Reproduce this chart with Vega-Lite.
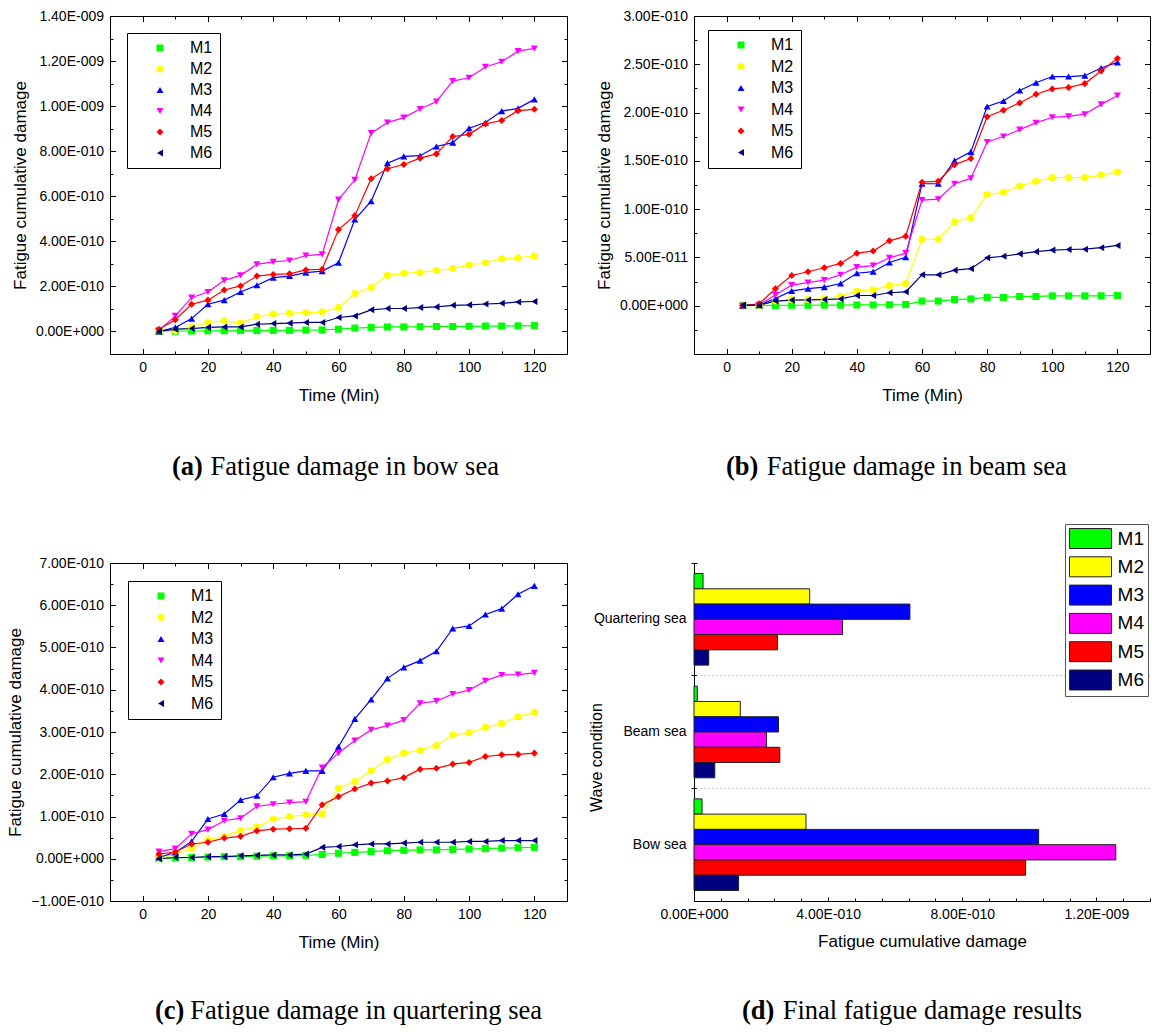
{
"$schema": "https://vega.github.io/schema/vega-lite/v6.json",
"background": "white",
"padding": {"left": 6, "top": 8, "right": 0, "bottom": 4},
"datasets": {
"bow": [
{"model":"M1","time":5,"damage":0},{"model":"M1","time":10,"damage":0.01e-10},{"model":"M1","time":15,"damage":0.02e-10},{"model":"M1","time":20,"damage":0.03e-10},{"model":"M1","time":25,"damage":0.03e-10},{"model":"M1","time":30,"damage":0.04e-10},{"model":"M1","time":35,"damage":0.04e-10},{"model":"M1","time":40,"damage":0.05e-10},{"model":"M1","time":45,"damage":0.05e-10},{"model":"M1","time":50,"damage":0.06e-10},{"model":"M1","time":55,"damage":0.07e-10},{"model":"M1","time":60,"damage":0.10e-10},{"model":"M1","time":65,"damage":0.15e-10},{"model":"M1","time":70,"damage":0.18e-10},{"model":"M1","time":75,"damage":0.20e-10},{"model":"M1","time":80,"damage":0.20e-10},{"model":"M1","time":85,"damage":0.21e-10},{"model":"M1","time":90,"damage":0.22e-10},{"model":"M1","time":95,"damage":0.22e-10},{"model":"M1","time":100,"damage":0.23e-10},{"model":"M1","time":105,"damage":0.24e-10},{"model":"M1","time":110,"damage":0.24e-10},{"model":"M1","time":115,"damage":0.25e-10},{"model":"M1","time":120,"damage":0.26e-10},
{"model":"M2","time":5,"damage":0},{"model":"M2","time":10,"damage":0.03e-10},{"model":"M2","time":15,"damage":0.20e-10},{"model":"M2","time":20,"damage":0.40e-10},{"model":"M2","time":25,"damage":0.47e-10},{"model":"M2","time":30,"damage":0.37e-10},{"model":"M2","time":35,"damage":0.66e-10},{"model":"M2","time":40,"damage":0.77e-10},{"model":"M2","time":45,"damage":0.81e-10},{"model":"M2","time":50,"damage":0.84e-10},{"model":"M2","time":55,"damage":0.87e-10},{"model":"M2","time":60,"damage":1.06e-10},{"model":"M2","time":65,"damage":1.68e-10},{"model":"M2","time":70,"damage":1.95e-10},{"model":"M2","time":75,"damage":2.49e-10},{"model":"M2","time":80,"damage":2.58e-10},{"model":"M2","time":85,"damage":2.61e-10},{"model":"M2","time":90,"damage":2.71e-10},{"model":"M2","time":95,"damage":2.79e-10},{"model":"M2","time":100,"damage":2.95e-10},{"model":"M2","time":105,"damage":3.05e-10},{"model":"M2","time":110,"damage":3.23e-10},{"model":"M2","time":115,"damage":3.27e-10},{"model":"M2","time":120,"damage":3.35e-10},
{"model":"M3","time":5,"damage":0},{"model":"M3","time":10,"damage":0.18e-10},{"model":"M3","time":15,"damage":0.57e-10},{"model":"M3","time":20,"damage":1.21e-10},{"model":"M3","time":25,"damage":1.39e-10},{"model":"M3","time":30,"damage":1.75e-10},{"model":"M3","time":35,"damage":2.05e-10},{"model":"M3","time":40,"damage":2.39e-10},{"model":"M3","time":45,"damage":2.46e-10},{"model":"M3","time":50,"damage":2.61e-10},{"model":"M3","time":55,"damage":2.68e-10},{"model":"M3","time":60,"damage":3.05e-10},{"model":"M3","time":65,"damage":4.97e-10},{"model":"M3","time":70,"damage":5.78e-10},{"model":"M3","time":75,"damage":7.47e-10},{"model":"M3","time":80,"damage":7.77e-10},{"model":"M3","time":85,"damage":7.80e-10},{"model":"M3","time":90,"damage":8.21e-10},{"model":"M3","time":95,"damage":8.38e-10},{"model":"M3","time":100,"damage":9.02e-10},{"model":"M3","time":105,"damage":9.27e-10},{"model":"M3","time":110,"damage":9.78e-10},{"model":"M3","time":115,"damage":9.90e-10},{"model":"M3","time":120,"damage":10.30e-10},
{"model":"M4","time":5,"damage":0.05e-10},{"model":"M4","time":10,"damage":0.69e-10},{"model":"M4","time":15,"damage":1.50e-10},{"model":"M4","time":20,"damage":1.75e-10},{"model":"M4","time":25,"damage":2.27e-10},{"model":"M4","time":30,"damage":2.49e-10},{"model":"M4","time":35,"damage":2.98e-10},{"model":"M4","time":40,"damage":3.09e-10},{"model":"M4","time":45,"damage":3.15e-10},{"model":"M4","time":50,"damage":3.37e-10},{"model":"M4","time":55,"damage":3.42e-10},{"model":"M4","time":60,"damage":5.85e-10},{"model":"M4","time":65,"damage":6.73e-10},{"model":"M4","time":70,"damage":8.80e-10},{"model":"M4","time":75,"damage":9.27e-10},{"model":"M4","time":80,"damage":9.49e-10},{"model":"M4","time":85,"damage":9.87e-10},{"model":"M4","time":90,"damage":10.20e-10},{"model":"M4","time":95,"damage":11.11e-10},{"model":"M4","time":100,"damage":11.26e-10},{"model":"M4","time":105,"damage":11.74e-10},{"model":"M4","time":110,"damage":11.97e-10},{"model":"M4","time":115,"damage":12.44e-10},{"model":"M4","time":120,"damage":12.56e-10},
{"model":"M5","time":5,"damage":0.10e-10},{"model":"M5","time":10,"damage":0.52e-10},{"model":"M5","time":15,"damage":1.21e-10},{"model":"M5","time":20,"damage":1.39e-10},{"model":"M5","time":25,"damage":1.84e-10},{"model":"M5","time":30,"damage":2.02e-10},{"model":"M5","time":35,"damage":2.46e-10},{"model":"M5","time":40,"damage":2.53e-10},{"model":"M5","time":45,"damage":2.56e-10},{"model":"M5","time":50,"damage":2.73e-10},{"model":"M5","time":55,"damage":2.76e-10},{"model":"M5","time":60,"damage":4.52e-10},{"model":"M5","time":65,"damage":5.14e-10},{"model":"M5","time":70,"damage":6.78e-10},{"model":"M5","time":75,"damage":7.22e-10},{"model":"M5","time":80,"damage":7.41e-10},{"model":"M5","time":85,"damage":7.69e-10},{"model":"M5","time":90,"damage":7.88e-10},{"model":"M5","time":95,"damage":8.65e-10},{"model":"M5","time":100,"damage":8.75e-10},{"model":"M5","time":105,"damage":9.21e-10},{"model":"M5","time":110,"damage":9.36e-10},{"model":"M5","time":115,"damage":9.80e-10},{"model":"M5","time":120,"damage":9.86e-10},
{"model":"M6","time":5,"damage":0},{"model":"M6","time":10,"damage":0.10e-10},{"model":"M6","time":15,"damage":0.13e-10},{"model":"M6","time":20,"damage":0.18e-10},{"model":"M6","time":25,"damage":0.20e-10},{"model":"M6","time":30,"damage":0.20e-10},{"model":"M6","time":35,"damage":0.32e-10},{"model":"M6","time":40,"damage":0.35e-10},{"model":"M6","time":45,"damage":0.37e-10},{"model":"M6","time":50,"damage":0.40e-10},{"model":"M6","time":55,"damage":0.40e-10},{"model":"M6","time":60,"damage":0.62e-10},{"model":"M6","time":65,"damage":0.69e-10},{"model":"M6","time":70,"damage":0.96e-10},{"model":"M6","time":75,"damage":1.02e-10},{"model":"M6","time":80,"damage":1.02e-10},{"model":"M6","time":85,"damage":1.06e-10},{"model":"M6","time":90,"damage":1.09e-10},{"model":"M6","time":95,"damage":1.16e-10},{"model":"M6","time":100,"damage":1.18e-10},{"model":"M6","time":105,"damage":1.22e-10},{"model":"M6","time":110,"damage":1.25e-10},{"model":"M6","time":115,"damage":1.31e-10},{"model":"M6","time":120,"damage":1.33e-10}
],
"beam": [
{"model":"M1","time":5,"damage":0.02e-11},{"model":"M1","time":10,"damage":0.02e-11},{"model":"M1","time":15,"damage":0.03e-11},{"model":"M1","time":20,"damage":0.05e-11},{"model":"M1","time":25,"damage":0.05e-11},{"model":"M1","time":30,"damage":0.06e-11},{"model":"M1","time":35,"damage":0.06e-11},{"model":"M1","time":40,"damage":0.08e-11},{"model":"M1","time":45,"damage":0.08e-11},{"model":"M1","time":50,"damage":0.10e-11},{"model":"M1","time":55,"damage":0.12e-11},{"model":"M1","time":60,"damage":0.48e-11},{"model":"M1","time":65,"damage":0.48e-11},{"model":"M1","time":70,"damage":0.64e-11},{"model":"M1","time":75,"damage":0.70e-11},{"model":"M1","time":80,"damage":0.86e-11},{"model":"M1","time":85,"damage":0.86e-11},{"model":"M1","time":90,"damage":0.96e-11},{"model":"M1","time":95,"damage":0.96e-11},{"model":"M1","time":100,"damage":1.02e-11},{"model":"M1","time":105,"damage":1.02e-11},{"model":"M1","time":110,"damage":1.02e-11},{"model":"M1","time":115,"damage":1.02e-11},{"model":"M1","time":120,"damage":1.06e-11},
{"model":"M2","time":5,"damage":0},{"model":"M2","time":10,"damage":0},{"model":"M2","time":15,"damage":0.48e-11},{"model":"M2","time":20,"damage":0.64e-11},{"model":"M2","time":25,"damage":0.64e-11},{"model":"M2","time":30,"damage":0.74e-11},{"model":"M2","time":35,"damage":0.96e-11},{"model":"M2","time":40,"damage":1.53e-11},{"model":"M2","time":45,"damage":1.66e-11},{"model":"M2","time":50,"damage":2.08e-11},{"model":"M2","time":55,"damage":2.30e-11},{"model":"M2","time":60,"damage":6.88e-11},{"model":"M2","time":65,"damage":6.88e-11},{"model":"M2","time":70,"damage":8.70e-11},{"model":"M2","time":75,"damage":9.11e-11},{"model":"M2","time":80,"damage":11.51e-11},{"model":"M2","time":85,"damage":11.74e-11},{"model":"M2","time":90,"damage":12.38e-11},{"model":"M2","time":95,"damage":12.89e-11},{"model":"M2","time":100,"damage":13.27e-11},{"model":"M2","time":105,"damage":13.27e-11},{"model":"M2","time":110,"damage":13.27e-11},{"model":"M2","time":115,"damage":13.53e-11},{"model":"M2","time":120,"damage":13.85e-11},
{"model":"M3","time":5,"damage":0},{"model":"M3","time":10,"damage":0.06e-11},{"model":"M3","time":15,"damage":0.74e-11},{"model":"M3","time":20,"damage":1.53e-11},{"model":"M3","time":25,"damage":1.76e-11},{"model":"M3","time":30,"damage":1.92e-11},{"model":"M3","time":35,"damage":2.30e-11},{"model":"M3","time":40,"damage":3.36e-11},{"model":"M3","time":45,"damage":3.52e-11},{"model":"M3","time":50,"damage":4.48e-11},{"model":"M3","time":55,"damage":5.02e-11},{"model":"M3","time":60,"damage":12.63e-11},{"model":"M3","time":65,"damage":12.63e-11},{"model":"M3","time":70,"damage":15.03e-11},{"model":"M3","time":75,"damage":15.93e-11},{"model":"M3","time":80,"damage":20.63e-11},{"model":"M3","time":85,"damage":21.20e-11},{"model":"M3","time":90,"damage":22.29e-11},{"model":"M3","time":95,"damage":23.09e-11},{"model":"M3","time":100,"damage":23.73e-11},{"model":"M3","time":105,"damage":23.73e-11},{"model":"M3","time":110,"damage":23.82e-11},{"model":"M3","time":115,"damage":24.62e-11},{"model":"M3","time":120,"damage":25.20e-11},
{"model":"M4","time":5,"damage":0},{"model":"M4","time":10,"damage":0.10e-11},{"model":"M4","time":15,"damage":1.10e-11},{"model":"M4","time":20,"damage":2.14e-11},{"model":"M4","time":25,"damage":2.40e-11},{"model":"M4","time":30,"damage":2.65e-11},{"model":"M4","time":35,"damage":3.20e-11},{"model":"M4","time":40,"damage":4.00e-11},{"model":"M4","time":45,"damage":4.16e-11},{"model":"M4","time":50,"damage":4.96e-11},{"model":"M4","time":55,"damage":5.44e-11},{"model":"M4","time":60,"damage":10.94e-11},{"model":"M4","time":65,"damage":11.03e-11},{"model":"M4","time":70,"damage":12.63e-11},{"model":"M4","time":75,"damage":13.18e-11},{"model":"M4","time":80,"damage":16.95e-11},{"model":"M4","time":85,"damage":17.52e-11},{"model":"M4","time":90,"damage":18.23e-11},{"model":"M4","time":95,"damage":18.93e-11},{"model":"M4","time":100,"damage":19.51e-11},{"model":"M4","time":105,"damage":19.60e-11},{"model":"M4","time":110,"damage":19.83e-11},{"model":"M4","time":115,"damage":20.85e-11},{"model":"M4","time":120,"damage":21.75e-11},
{"model":"M5","time":5,"damage":0.02e-11},{"model":"M5","time":10,"damage":0.20e-11},{"model":"M5","time":15,"damage":1.76e-11},{"model":"M5","time":20,"damage":3.13e-11},{"model":"M5","time":25,"damage":3.52e-11},{"model":"M5","time":30,"damage":3.93e-11},{"model":"M5","time":35,"damage":4.38e-11},{"model":"M5","time":40,"damage":5.44e-11},{"model":"M5","time":45,"damage":5.66e-11},{"model":"M5","time":50,"damage":6.72e-11},{"model":"M5","time":55,"damage":7.20e-11},{"model":"M5","time":60,"damage":12.79e-11},{"model":"M5","time":65,"damage":12.89e-11},{"model":"M5","time":70,"damage":14.61e-11},{"model":"M5","time":75,"damage":15.25e-11},{"model":"M5","time":80,"damage":19.57e-11},{"model":"M5","time":85,"damage":20.24e-11},{"model":"M5","time":90,"damage":21.00e-11},{"model":"M5","time":95,"damage":21.90e-11},{"model":"M5","time":100,"damage":22.45e-11},{"model":"M5","time":105,"damage":22.60e-11},{"model":"M5","time":110,"damage":23.00e-11},{"model":"M5","time":115,"damage":24.30e-11},{"model":"M5","time":120,"damage":25.60e-11},
{"model":"M6","time":5,"damage":0.06e-11},{"model":"M6","time":10,"damage":0.06e-11},{"model":"M6","time":15,"damage":0.48e-11},{"model":"M6","time":20,"damage":0.58e-11},{"model":"M6","time":25,"damage":0.60e-11},{"model":"M6","time":30,"damage":0.64e-11},{"model":"M6","time":35,"damage":0.70e-11},{"model":"M6","time":40,"damage":1.06e-11},{"model":"M6","time":45,"damage":1.06e-11},{"model":"M6","time":50,"damage":1.34e-11},{"model":"M6","time":55,"damage":1.44e-11},{"model":"M6","time":60,"damage":3.20e-11},{"model":"M6","time":65,"damage":3.20e-11},{"model":"M6","time":70,"damage":3.68e-11},{"model":"M6","time":75,"damage":3.84e-11},{"model":"M6","time":80,"damage":4.96e-11},{"model":"M6","time":85,"damage":5.12e-11},{"model":"M6","time":90,"damage":5.37e-11},{"model":"M6","time":95,"damage":5.60e-11},{"model":"M6","time":100,"damage":5.76e-11},{"model":"M6","time":105,"damage":5.82e-11},{"model":"M6","time":110,"damage":5.85e-11},{"model":"M6","time":115,"damage":6.01e-11},{"model":"M6","time":120,"damage":6.24e-11}
],
"quartering": [
{"model":"M1","time":5,"damage":0},{"model":"M1","time":10,"damage":0.02e-10},{"model":"M1","time":15,"damage":0.03e-10},{"model":"M1","time":20,"damage":0.04e-10},{"model":"M1","time":25,"damage":0.05e-10},{"model":"M1","time":30,"damage":0.05e-10},{"model":"M1","time":35,"damage":0.06e-10},{"model":"M1","time":40,"damage":0.07e-10},{"model":"M1","time":45,"damage":0.07e-10},{"model":"M1","time":50,"damage":0.08e-10},{"model":"M1","time":55,"damage":0.10e-10},{"model":"M1","time":60,"damage":0.13e-10},{"model":"M1","time":65,"damage":0.15e-10},{"model":"M1","time":70,"damage":0.17e-10},{"model":"M1","time":75,"damage":0.19e-10},{"model":"M1","time":80,"damage":0.20e-10},{"model":"M1","time":85,"damage":0.21e-10},{"model":"M1","time":90,"damage":0.21e-10},{"model":"M1","time":95,"damage":0.22e-10},{"model":"M1","time":100,"damage":0.23e-10},{"model":"M1","time":105,"damage":0.24e-10},{"model":"M1","time":110,"damage":0.25e-10},{"model":"M1","time":115,"damage":0.26e-10},{"model":"M1","time":120,"damage":0.27e-10},
{"model":"M2","time":5,"damage":0},{"model":"M2","time":10,"damage":0.11e-10},{"model":"M2","time":15,"damage":0.25e-10},{"model":"M2","time":20,"damage":0.45e-10},{"model":"M2","time":25,"damage":0.53e-10},{"model":"M2","time":30,"damage":0.67e-10},{"model":"M2","time":35,"damage":0.75e-10},{"model":"M2","time":40,"damage":0.94e-10},{"model":"M2","time":45,"damage":1.00e-10},{"model":"M2","time":50,"damage":1.04e-10},{"model":"M2","time":55,"damage":1.06e-10},{"model":"M2","time":60,"damage":1.67e-10},{"model":"M2","time":65,"damage":1.83e-10},{"model":"M2","time":70,"damage":2.08e-10},{"model":"M2","time":75,"damage":2.35e-10},{"model":"M2","time":80,"damage":2.50e-10},{"model":"M2","time":85,"damage":2.57e-10},{"model":"M2","time":90,"damage":2.68e-10},{"model":"M2","time":95,"damage":2.93e-10},{"model":"M2","time":100,"damage":2.98e-10},{"model":"M2","time":105,"damage":3.11e-10},{"model":"M2","time":110,"damage":3.20e-10},{"model":"M2","time":115,"damage":3.36e-10},{"model":"M2","time":120,"damage":3.46e-10},
{"model":"M3","time":5,"damage":0.03e-10},{"model":"M3","time":10,"damage":0.15e-10},{"model":"M3","time":15,"damage":0.41e-10},{"model":"M3","time":20,"damage":0.94e-10},{"model":"M3","time":25,"damage":1.06e-10},{"model":"M3","time":30,"damage":1.39e-10},{"model":"M3","time":35,"damage":1.49e-10},{"model":"M3","time":40,"damage":1.93e-10},{"model":"M3","time":45,"damage":2.02e-10},{"model":"M3","time":50,"damage":2.08e-10},{"model":"M3","time":55,"damage":2.08e-10},{"model":"M3","time":60,"damage":2.65e-10},{"model":"M3","time":65,"damage":3.31e-10},{"model":"M3","time":70,"damage":3.77e-10},{"model":"M3","time":75,"damage":4.27e-10},{"model":"M3","time":80,"damage":4.53e-10},{"model":"M3","time":85,"damage":4.69e-10},{"model":"M3","time":90,"damage":4.91e-10},{"model":"M3","time":95,"damage":5.45e-10},{"model":"M3","time":100,"damage":5.51e-10},{"model":"M3","time":105,"damage":5.78e-10},{"model":"M3","time":110,"damage":5.92e-10},{"model":"M3","time":115,"damage":6.26e-10},{"model":"M3","time":120,"damage":6.46e-10},
{"model":"M4","time":5,"damage":0.17e-10},{"model":"M4","time":10,"damage":0.24e-10},{"model":"M4","time":15,"damage":0.59e-10},{"model":"M4","time":20,"damage":0.69e-10},{"model":"M4","time":25,"damage":0.90e-10},{"model":"M4","time":30,"damage":0.96e-10},{"model":"M4","time":35,"damage":1.24e-10},{"model":"M4","time":40,"damage":1.29e-10},{"model":"M4","time":45,"damage":1.33e-10},{"model":"M4","time":50,"damage":1.35e-10},{"model":"M4","time":55,"damage":2.16e-10},{"model":"M4","time":60,"damage":2.50e-10},{"model":"M4","time":65,"damage":2.80e-10},{"model":"M4","time":70,"damage":3.05e-10},{"model":"M4","time":75,"damage":3.15e-10},{"model":"M4","time":80,"damage":3.28e-10},{"model":"M4","time":85,"damage":3.68e-10},{"model":"M4","time":90,"damage":3.73e-10},{"model":"M4","time":95,"damage":3.90e-10},{"model":"M4","time":100,"damage":3.99e-10},{"model":"M4","time":105,"damage":4.21e-10},{"model":"M4","time":110,"damage":4.35e-10},{"model":"M4","time":115,"damage":4.36e-10},{"model":"M4","time":120,"damage":4.40e-10},
{"model":"M5","time":5,"damage":0.11e-10},{"model":"M5","time":10,"damage":0.16e-10},{"model":"M5","time":15,"damage":0.35e-10},{"model":"M5","time":20,"damage":0.39e-10},{"model":"M5","time":25,"damage":0.49e-10},{"model":"M5","time":30,"damage":0.53e-10},{"model":"M5","time":35,"damage":0.66e-10},{"model":"M5","time":40,"damage":0.70e-10},{"model":"M5","time":45,"damage":0.71e-10},{"model":"M5","time":50,"damage":0.72e-10},{"model":"M5","time":55,"damage":1.28e-10},{"model":"M5","time":60,"damage":1.47e-10},{"model":"M5","time":65,"damage":1.65e-10},{"model":"M5","time":70,"damage":1.79e-10},{"model":"M5","time":75,"damage":1.84e-10},{"model":"M5","time":80,"damage":1.92e-10},{"model":"M5","time":85,"damage":2.12e-10},{"model":"M5","time":90,"damage":2.14e-10},{"model":"M5","time":95,"damage":2.24e-10},{"model":"M5","time":100,"damage":2.28e-10},{"model":"M5","time":105,"damage":2.42e-10},{"model":"M5","time":110,"damage":2.46e-10},{"model":"M5","time":115,"damage":2.47e-10},{"model":"M5","time":120,"damage":2.50e-10},
{"model":"M6","time":5,"damage":0},{"model":"M6","time":10,"damage":0.03e-10},{"model":"M6","time":15,"damage":0.03e-10},{"model":"M6","time":20,"damage":0.05e-10},{"model":"M6","time":25,"damage":0.05e-10},{"model":"M6","time":30,"damage":0.07e-10},{"model":"M6","time":35,"damage":0.08e-10},{"model":"M6","time":40,"damage":0.09e-10},{"model":"M6","time":45,"damage":0.09e-10},{"model":"M6","time":50,"damage":0.11e-10},{"model":"M6","time":55,"damage":0.27e-10},{"model":"M6","time":60,"damage":0.29e-10},{"model":"M6","time":65,"damage":0.33e-10},{"model":"M6","time":70,"damage":0.35e-10},{"model":"M6","time":75,"damage":0.35e-10},{"model":"M6","time":80,"damage":0.37e-10},{"model":"M6","time":85,"damage":0.39e-10},{"model":"M6","time":90,"damage":0.39e-10},{"model":"M6","time":95,"damage":0.39e-10},{"model":"M6","time":100,"damage":0.41e-10},{"model":"M6","time":105,"damage":0.41e-10},{"model":"M6","time":110,"damage":0.43e-10},{"model":"M6","time":115,"damage":0.43e-10},{"model":"M6","time":120,"damage":0.43e-10}
],
"final": [
{"sea":"Bow sea","model":"M1","damage":0.24e-10},{"sea":"Bow sea","model":"M2","damage":3.34e-10},{"sea":"Bow sea","model":"M3","damage":10.28e-10},{"sea":"Bow sea","model":"M4","damage":12.58e-10},{"sea":"Bow sea","model":"M5","damage":9.89e-10},{"sea":"Bow sea","model":"M6","damage":1.33e-10},
{"sea":"Beam sea","model":"M1","damage":0.10e-10},{"sea":"Beam sea","model":"M2","damage":1.38e-10},{"sea":"Beam sea","model":"M3","damage":2.52e-10},{"sea":"Beam sea","model":"M4","damage":2.16e-10},{"sea":"Beam sea","model":"M5","damage":2.56e-10},{"sea":"Beam sea","model":"M6","damage":0.62e-10},
{"sea":"Quartering sea","model":"M1","damage":0.27e-10},{"sea":"Quartering sea","model":"M2","damage":3.45e-10},{"sea":"Quartering sea","model":"M3","damage":6.44e-10},{"sea":"Quartering sea","model":"M4","damage":4.43e-10},{"sea":"Quartering sea","model":"M5","damage":2.49e-10},{"sea":"Quartering sea","model":"M6","damage":0.44e-10}
],
"separators": [{"sea":"Beam sea"},{"sea":"Bow sea"}]
},
"columns": 2,
"spacing": {"row": 209, "column": 127},
"bounds": "flush",
"resolve": {"scale": {"x": "independent", "y": "independent", "color": "independent", "shape": "independent", "stroke": "independent"}},
"concat": [
{
"width": 457, "height": 338,
"data": {"name": "bow"},
"title": {"text": "(a)", "subtitle": "\u200b\u00a0\u00a0\u00a0\u00a0\u00a0\u2009Fatigue damage in bow sea", "dx": 62, "offset": 51},
"layer": [
{"mark": {"type": "line", "strokeWidth": 1.2},
"encoding": {
"x": {"field": "time", "type": "quantitative", "scale": {"domain": [-10, 130], "nice": false, "zero": false},
"axis": {"orient": "bottom", "title": "Time (Min)", "values": [0,10,20,30,40,50,60,70,80,90,100,110,120], "labelExpr": "datum.value % 20 !== 0 ? '' : datum.label", "tickSize": {"condition": {"test": "datum.value % 20 !== 0", "value": -3}, "value": -5.5}, "labelPadding": 12, "titlePadding": 10, "domain": false}},
"y": {"field": "damage", "type": "quantitative", "scale": {"domain": [-1e-10, 1.4e-9], "nice": false, "zero": false},
"axis": {"orient": "left", "title": "Fatigue cumulative damage", "values": [-1e-10,0,1e-10,2e-10,3e-10,4e-10,5e-10,6e-10,7e-10,8e-10,9e-10,1e-9,1.1e-9,1.2e-9,1.3e-9,1.4e-9], "labelExpr": "round(datum.value*1e10) % 2 !== 0 ? '' : (datum.value === 0 ? '0.00E+000' : format(datum.value / pow(10, floor(log(abs(datum.value)) / LN10 + 1e-6)), '.2f') + 'E' + (floor(log(abs(datum.value)) / LN10 + 1e-6) < 0 ? '-' : '+') + (abs(floor(log(abs(datum.value)) / LN10 + 1e-6)) < 10 ? '00' : '0') + abs(floor(log(abs(datum.value)) / LN10 + 1e-6)))", "tickSize": {"condition": {"test": "round(datum.value*1e10) % 2 !== 0", "value": -3}, "value": -5.5}, "labelPadding": 12, "titlePadding": 6, "domain": false}},
"stroke": {"field": "model", "type": "nominal", "scale": {"range": ["#00ff00","#ffff00","#0000ff","#ff00ff","#ff0000","#000080"]}, "legend": null}
}},
{"mark": {"type": "point", "filled": true, "size": 50, "opacity": 1},
"encoding": {
"x": {"field": "time", "type": "quantitative", "axis": null},
"y": {"field": "damage", "type": "quantitative", "axis": null},
"color": {"field": "model", "type": "nominal", "scale": {"domain": ["M1","M2","M3","M4","M5","M6"], "range": ["#00ff00","#ffff00","#0000ff","#ff00ff","#ff0000","#000080"]},
"legend": {"title": null, "orient": "top-left", "offset": 17, "padding": 7, "rowPadding": 5, "labelFontSize": 16, "symbolSize": 49, "symbolOffset": 18, "labelOffset": 22, "symbolStrokeWidth": 0, "strokeColor": "#000", "fillColor": "white",
"encode": {"symbols": {"shape": {"value": {"expr": "datum.value === 'M1' ? 'M-5.5,-0.17H5.5V0.17H-5.5ZM-1,-1H1V1H-1Z' : datum.value === 'M2' ? 'M-5.5,-0.17H5.5V0.17H-5.5ZM1.2,0A1.2,1.2,0,1,1,-1.2,0A1.2,1.2,0,1,1,1.2,0Z' : datum.value === 'M3' ? 'M-5.5,-0.17H5.5V0.17H-5.5ZM0,-1.3L1.4,1H-1.4Z' : datum.value === 'M4' ? 'M-5.5,-0.17H5.5V0.17H-5.5ZM-1.4,-1H1.4L0,1.3Z' : datum.value === 'M5' ? 'M-5.5,-0.17H5.5V0.17H-5.5ZM0,-1.4L1.4,0L0,1.4L-1.4,0Z' : 'M-5.5,-0.17H5.5V0.17H-5.5ZM-1.3,0L1,-1.4V1.4Z'"}}}}}},
"shape": {"field": "model", "type": "nominal", "scale": {"domain": ["M1","M2","M3","M4","M5","M6"], "range": ["square","circle","triangle-up","triangle-down","diamond","triangle-left"]},
"legend": {"title": null, "orient": "top-left", "offset": 17, "padding": 7, "rowPadding": 5, "labelFontSize": 16, "symbolSize": 49, "symbolOffset": 18, "labelOffset": 22, "symbolStrokeWidth": 0, "strokeColor": "#000", "fillColor": "white",
"encode": {"symbols": {"shape": {"value": {"expr": "datum.value === 'M1' ? 'M-5.5,-0.17H5.5V0.17H-5.5ZM-1,-1H1V1H-1Z' : datum.value === 'M2' ? 'M-5.5,-0.17H5.5V0.17H-5.5ZM1.2,0A1.2,1.2,0,1,1,-1.2,0A1.2,1.2,0,1,1,1.2,0Z' : datum.value === 'M3' ? 'M-5.5,-0.17H5.5V0.17H-5.5ZM0,-1.3L1.4,1H-1.4Z' : datum.value === 'M4' ? 'M-5.5,-0.17H5.5V0.17H-5.5ZM-1.4,-1H1.4L0,1.3Z' : datum.value === 'M5' ? 'M-5.5,-0.17H5.5V0.17H-5.5ZM0,-1.4L1.4,0L0,1.4L-1.4,0Z' : 'M-5.5,-0.17H5.5V0.17H-5.5ZM-1.3,0L1,-1.4V1.4Z'"}}}}}}
}},
{"mark": {"type": "point", "opacity": 0},
"encoding": {
"x": {"field": "time", "type": "quantitative", "axis": {"orient": "top", "title": null, "labels": false, "values": [0,10,20,30,40,50,60,70,80,90,100,110,120], "tickSize": {"condition": {"test": "datum.value % 20 !== 0", "value": -3}, "value": -5.5}, "domain": false}},
"y": {"field": "damage", "type": "quantitative", "axis": {"orient": "right", "title": null, "labels": false, "values": [-1e-10,0,1e-10,2e-10,3e-10,4e-10,5e-10,6e-10,7e-10,8e-10,9e-10,1e-9,1.1e-9,1.2e-9,1.3e-9,1.4e-9], "tickSize": {"condition": {"test": "round(datum.value*1e10) % 2 !== 0", "value": -3}, "value": -5.5}, "domain": false}}
}}
],
"resolve": {"axis": {"x": "independent", "y": "independent"}}
},
{
"width": 456, "height": 338,
"data": {"name": "beam"},
"title": {"text": "(b)", "subtitle": "\u200b\u00a0\u00a0\u00a0\u00a0\u00a0\u2009\u200aFatigue damage in beam sea", "dx": 32, "offset": 51},
"layer": [
{"mark": {"type": "line", "strokeWidth": 1.2},
"encoding": {
"x": {"field": "time", "type": "quantitative", "scale": {"domain": [-10, 130], "nice": false, "zero": false},
"axis": {"orient": "bottom", "title": "Time (Min)", "values": [0,10,20,30,40,50,60,70,80,90,100,110,120], "labelExpr": "datum.value % 20 !== 0 ? '' : datum.label", "tickSize": {"condition": {"test": "datum.value % 20 !== 0", "value": -3}, "value": -5.5}, "labelPadding": 12, "titlePadding": 10, "domain": false}},
"y": {"field": "damage", "type": "quantitative", "scale": {"domain": [-5e-11, 3e-10], "nice": false, "zero": false},
"axis": {"orient": "left", "title": "Fatigue cumulative damage", "values": [-5e-11,-2.5e-11,0,2.5e-11,5e-11,7.5e-11,1e-10,1.25e-10,1.5e-10,1.75e-10,2e-10,2.25e-10,2.5e-10,2.75e-10,3e-10], "labelExpr": "(round(datum.value*4e10) % 2 !== 0 || datum.value < 0) ? '' : (datum.value === 0 ? '0.00E+000' : format(datum.value / pow(10, floor(log(abs(datum.value)) / LN10 + 1e-6)), '.2f') + 'E' + (floor(log(abs(datum.value)) / LN10 + 1e-6) < 0 ? '-' : '+') + (abs(floor(log(abs(datum.value)) / LN10 + 1e-6)) < 10 ? '00' : '0') + abs(floor(log(abs(datum.value)) / LN10 + 1e-6)))", "tickSize": {"condition": {"test": "round(datum.value*4e10) % 2 !== 0", "value": -3}, "value": -5.5}, "labelPadding": 12, "titlePadding": 6, "domain": false}},
"stroke": {"field": "model", "type": "nominal", "scale": {"range": ["#00ff00","#ffff00","#0000ff","#ff00ff","#ff0000","#000080"]}, "legend": null}
}},
{"mark": {"type": "point", "filled": true, "size": 50, "opacity": 1},
"encoding": {
"x": {"field": "time", "type": "quantitative", "axis": null},
"y": {"field": "damage", "type": "quantitative", "axis": null},
"color": {"field": "model", "type": "nominal", "scale": {"domain": ["M1","M2","M3","M4","M5","M6"], "range": ["#00ff00","#ffff00","#0000ff","#ff00ff","#ff0000","#000080"]},
"legend": {"title": null, "orient": "top-left", "offset": 14, "padding": 7, "rowPadding": 5.5, "labelFontSize": 16, "symbolSize": 49, "symbolOffset": 18, "labelOffset": 22, "symbolStrokeWidth": 0, "strokeColor": "#000", "fillColor": "white",
"encode": {"symbols": {"shape": {"value": {"expr": "datum.value === 'M1' ? 'M-5.5,-0.17H5.5V0.17H-5.5ZM-1,-1H1V1H-1Z' : datum.value === 'M2' ? 'M-5.5,-0.17H5.5V0.17H-5.5ZM1.2,0A1.2,1.2,0,1,1,-1.2,0A1.2,1.2,0,1,1,1.2,0Z' : datum.value === 'M3' ? 'M-5.5,-0.17H5.5V0.17H-5.5ZM0,-1.3L1.4,1H-1.4Z' : datum.value === 'M4' ? 'M-5.5,-0.17H5.5V0.17H-5.5ZM-1.4,-1H1.4L0,1.3Z' : datum.value === 'M5' ? 'M-5.5,-0.17H5.5V0.17H-5.5ZM0,-1.4L1.4,0L0,1.4L-1.4,0Z' : 'M-5.5,-0.17H5.5V0.17H-5.5ZM-1.3,0L1,-1.4V1.4Z'"}}}}}},
"shape": {"field": "model", "type": "nominal", "scale": {"domain": ["M1","M2","M3","M4","M5","M6"], "range": ["square","circle","triangle-up","triangle-down","diamond","triangle-left"]},
"legend": {"title": null, "orient": "top-left", "offset": 14, "padding": 7, "rowPadding": 5.5, "labelFontSize": 16, "symbolSize": 49, "symbolOffset": 18, "labelOffset": 22, "symbolStrokeWidth": 0, "strokeColor": "#000", "fillColor": "white",
"encode": {"symbols": {"shape": {"value": {"expr": "datum.value === 'M1' ? 'M-5.5,-0.17H5.5V0.17H-5.5ZM-1,-1H1V1H-1Z' : datum.value === 'M2' ? 'M-5.5,-0.17H5.5V0.17H-5.5ZM1.2,0A1.2,1.2,0,1,1,-1.2,0A1.2,1.2,0,1,1,1.2,0Z' : datum.value === 'M3' ? 'M-5.5,-0.17H5.5V0.17H-5.5ZM0,-1.3L1.4,1H-1.4Z' : datum.value === 'M4' ? 'M-5.5,-0.17H5.5V0.17H-5.5ZM-1.4,-1H1.4L0,1.3Z' : datum.value === 'M5' ? 'M-5.5,-0.17H5.5V0.17H-5.5ZM0,-1.4L1.4,0L0,1.4L-1.4,0Z' : 'M-5.5,-0.17H5.5V0.17H-5.5ZM-1.3,0L1,-1.4V1.4Z'"}}}}}}
}},
{"mark": {"type": "point", "opacity": 0},
"encoding": {
"x": {"field": "time", "type": "quantitative", "axis": {"orient": "top", "title": null, "labels": false, "values": [0,10,20,30,40,50,60,70,80,90,100,110,120], "tickSize": {"condition": {"test": "datum.value % 20 !== 0", "value": -3}, "value": -5.5}, "domain": false}},
"y": {"field": "damage", "type": "quantitative", "axis": {"orient": "right", "title": null, "labels": false, "values": [-5e-11,-2.5e-11,0,2.5e-11,5e-11,7.5e-11,1e-10,1.25e-10,1.5e-10,1.75e-10,2e-10,2.25e-10,2.5e-10,2.75e-10,3e-10], "tickSize": {"condition": {"test": "round(datum.value*4e10) % 2 !== 0", "value": -3}, "value": -5.5}, "domain": false}}
}}
],
"resolve": {"axis": {"x": "independent", "y": "independent"}}
},
{
"width": 457, "height": 338,
"data": {"name": "quartering"},
"title": {"text": "(c)", "subtitle": "\u200b\u00a0\u00a0\u00a0\u00a0\u00a0\u200aFatigue damage in quartering sea", "dx": 45, "offset": 48},
"layer": [
{"mark": {"type": "line", "strokeWidth": 1.2},
"encoding": {
"x": {"field": "time", "type": "quantitative", "scale": {"domain": [-10, 130], "nice": false, "zero": false},
"axis": {"orient": "bottom", "title": "Time (Min)", "values": [0,10,20,30,40,50,60,70,80,90,100,110,120], "labelExpr": "datum.value % 20 !== 0 ? '' : datum.label", "tickSize": {"condition": {"test": "datum.value % 20 !== 0", "value": -3}, "value": -5.5}, "labelPadding": 12, "titlePadding": 10, "domain": false}},
"y": {"field": "damage", "type": "quantitative", "scale": {"domain": [-1e-10, 7e-10], "nice": false, "zero": false},
"axis": {"orient": "left", "title": "Fatigue cumulative damage", "values": [-1e-10,-5e-11,0,5e-11,1e-10,1.5e-10,2e-10,2.5e-10,3e-10,3.5e-10,4e-10,4.5e-10,5e-10,5.5e-10,6e-10,6.5e-10,7e-10], "labelExpr": "round(datum.value*2e10) % 2 !== 0 ? '' : (datum.value === 0 ? '0.00E+000' : format(datum.value / pow(10, floor(log(abs(datum.value)) / LN10 + 1e-6)), '.2f') + 'E' + (floor(log(abs(datum.value)) / LN10 + 1e-6) < 0 ? '-' : '+') + (abs(floor(log(abs(datum.value)) / LN10 + 1e-6)) < 10 ? '00' : '0') + abs(floor(log(abs(datum.value)) / LN10 + 1e-6)))", "tickSize": {"condition": {"test": "round(datum.value*2e10) % 2 !== 0", "value": -3}, "value": -5.5}, "labelPadding": 12, "titlePadding": 6, "domain": false}},
"stroke": {"field": "model", "type": "nominal", "scale": {"range": ["#00ff00","#ffff00","#0000ff","#ff00ff","#ff0000","#000080"]}, "legend": null}
}},
{"mark": {"type": "point", "filled": true, "size": 50, "opacity": 1},
"encoding": {
"x": {"field": "time", "type": "quantitative", "axis": null},
"y": {"field": "damage", "type": "quantitative", "axis": null},
"color": {"field": "model", "type": "nominal", "scale": {"domain": ["M1","M2","M3","M4","M5","M6"], "range": ["#00ff00","#ffff00","#0000ff","#ff00ff","#ff0000","#000080"]},
"legend": {"title": null, "orient": "top-left", "offset": 18, "padding": 7, "rowPadding": 5.5, "labelFontSize": 16, "symbolSize": 49, "symbolOffset": 18, "labelOffset": 22, "symbolStrokeWidth": 0, "strokeColor": "#000", "fillColor": "white",
"encode": {"symbols": {"shape": {"value": {"expr": "datum.value === 'M1' ? 'M-5.5,-0.17H5.5V0.17H-5.5ZM-1,-1H1V1H-1Z' : datum.value === 'M2' ? 'M-5.5,-0.17H5.5V0.17H-5.5ZM1.2,0A1.2,1.2,0,1,1,-1.2,0A1.2,1.2,0,1,1,1.2,0Z' : datum.value === 'M3' ? 'M-5.5,-0.17H5.5V0.17H-5.5ZM0,-1.3L1.4,1H-1.4Z' : datum.value === 'M4' ? 'M-5.5,-0.17H5.5V0.17H-5.5ZM-1.4,-1H1.4L0,1.3Z' : datum.value === 'M5' ? 'M-5.5,-0.17H5.5V0.17H-5.5ZM0,-1.4L1.4,0L0,1.4L-1.4,0Z' : 'M-5.5,-0.17H5.5V0.17H-5.5ZM-1.3,0L1,-1.4V1.4Z'"}}}}}},
"shape": {"field": "model", "type": "nominal", "scale": {"domain": ["M1","M2","M3","M4","M5","M6"], "range": ["square","circle","triangle-up","triangle-down","diamond","triangle-left"]},
"legend": {"title": null, "orient": "top-left", "offset": 18, "padding": 7, "rowPadding": 5.5, "labelFontSize": 16, "symbolSize": 49, "symbolOffset": 18, "labelOffset": 22, "symbolStrokeWidth": 0, "strokeColor": "#000", "fillColor": "white",
"encode": {"symbols": {"shape": {"value": {"expr": "datum.value === 'M1' ? 'M-5.5,-0.17H5.5V0.17H-5.5ZM-1,-1H1V1H-1Z' : datum.value === 'M2' ? 'M-5.5,-0.17H5.5V0.17H-5.5ZM1.2,0A1.2,1.2,0,1,1,-1.2,0A1.2,1.2,0,1,1,1.2,0Z' : datum.value === 'M3' ? 'M-5.5,-0.17H5.5V0.17H-5.5ZM0,-1.3L1.4,1H-1.4Z' : datum.value === 'M4' ? 'M-5.5,-0.17H5.5V0.17H-5.5ZM-1.4,-1H1.4L0,1.3Z' : datum.value === 'M5' ? 'M-5.5,-0.17H5.5V0.17H-5.5ZM0,-1.4L1.4,0L0,1.4L-1.4,0Z' : 'M-5.5,-0.17H5.5V0.17H-5.5ZM-1.3,0L1,-1.4V1.4Z'"}}}}}}
}},
{"mark": {"type": "point", "opacity": 0},
"encoding": {
"x": {"field": "time", "type": "quantitative", "axis": {"orient": "top", "title": null, "labels": false, "values": [0,10,20,30,40,50,60,70,80,90,100,110,120], "tickSize": {"condition": {"test": "datum.value % 20 !== 0", "value": -3}, "value": -5.5}, "domain": false}},
"y": {"field": "damage", "type": "quantitative", "axis": {"orient": "right", "title": null, "labels": false, "values": [-1e-10,-5e-11,0,5e-11,1e-10,1.5e-10,2e-10,2.5e-10,3e-10,3.5e-10,4e-10,4.5e-10,5e-10,5.5e-10,6e-10,6.5e-10,7e-10], "tickSize": {"condition": {"test": "round(datum.value*2e10) % 2 !== 0", "value": -3}, "value": -5.5}, "domain": false}}
}}
],
"resolve": {"axis": {"x": "independent", "y": "independent"}}
},
{
"width": 456, "height": 338,
"view": {"stroke": null},
"title": {"text": "(d)", "subtitle": "\u200b\u00a0\u00a0\u00a0\u00a0\u00a0\u2009\u200aFinal fatigue damage results", "dx": 48, "offset": 49},
"layer": [
{"data": {"name": "separators"},
"mark": {"type": "rule", "stroke": "#a8a8a8", "strokeWidth": 1, "strokeDash": [1.5, 2.5]},
"encoding": {
"y": {"field": "sea", "type": "nominal", "bandPosition": 0, "scale": {"domain": ["Quartering sea","Beam sea","Bow sea"]}, "axis": {"orient": "left", "labels": false, "title": null, "domain": false, "ticks": true, "tickSize": 6, "bandPosition": 0, "offset": -3}}
}},
{"data": {"name": "final"},
"mark": {"type": "bar", "stroke": "#202020", "strokeWidth": 1},
"encoding": {
"y": {"field": "sea", "type": "nominal", "scale": {"domain": ["Quartering sea","Beam sea","Bow sea"], "paddingInner": 0, "paddingOuter": 0},
"axis": {"orient": "left", "title": "Wave condition", "titleFontSize": 16, "titleX": -98, "titleY": 194, "titleBaseline": "middle", "titleAngle": 270, "ticks": false, "labelPadding": 8, "domain": true, "labelFontSize": 14}},
"yOffset": {"field": "model", "type": "nominal", "scale": {"domain": ["M1","M2","M3","M4","M5","M6"], "paddingInner": 0, "paddingOuter": 0.69}},
"x": {"field": "damage", "type": "quantitative", "scale": {"domain": [0, 1.36e-9], "nice": false, "zero": true},
"axis": {"orient": "bottom", "title": "Fatigue cumulative damage", "values": [0,8e-11,1.6e-10,2.4e-10,3.2e-10,4e-10,4.8e-10,5.6e-10,6.4e-10,7.2e-10,8e-10,8.8e-10,9.6e-10,1.04e-9,1.12e-9,1.2e-9,1.28e-9,1.36e-9], "labelExpr": "round(datum.value*1.25e10) % 5 !== 0 ? '' : (datum.value === 0 ? '0.00E+000' : format(datum.value / pow(10, floor(log(abs(datum.value)) / LN10 + 1e-6)), '.2f') + 'E' + (floor(log(abs(datum.value)) / LN10 + 1e-6) < 0 ? '-' : '+') + (abs(floor(log(abs(datum.value)) / LN10 + 1e-6)) < 10 ? '00' : '0') + abs(floor(log(abs(datum.value)) / LN10 + 1e-6)))", "tickSize": {"condition": {"test": "round(datum.value*1.25e10) % 5 !== 0", "value": -3}, "value": -4}, "labelPadding": 10, "titlePadding": 11, "domain": true}},
"color": {"field": "model", "type": "nominal", "scale": {"domain": ["M1","M2","M3","M4","M5","M6"], "range": ["#00ff00","#ffff00","#0000ff","#ff00ff","#ff0000","#000080"]},
"legend": {"title": null, "orient": "none", "legendX": 371, "legendY": -39, "padding": 4, "rowPadding": 3.3, "labelFontSize": 19, "symbolType": "M-2.1,-1H2.1V1H-2.1Z", "symbolSize": 400, "symbolOffset": 11, "labelOffset": 16.6, "symbolStrokeColor": "#222", "symbolStrokeWidth": 1, "strokeColor": "#555", "fillColor": "white"}}
}}
],
"resolve": {"axis": {"y": "independent"}}
}
],
"config": {
"font": "Liberation Sans",
"view": {"stroke": "#000", "strokeWidth": 1},
"axis": {"labelFont": "Liberation Sans", "titleFont": "Liberation Sans", "labelFontSize": 14, "titleFontSize": 17, "labelColor": "#000", "titleColor": "#000", "titleFontWeight": "normal", "tickColor": "#000", "domainColor": "#000", "grid": false, "labelOverlap": false, "labelFlush": false, "tickWidth": 1},
"legend": {"labelFont": "Liberation Sans", "labelColor": "#000"},
"title": {"font": "Liberation Serif", "fontSize": 26.5, "fontWeight": "bold", "color": "#000", "subtitleFont": "Liberation Serif", "subtitleFontSize": 26.5, "subtitleColor": "#000", "subtitleFontWeight": "normal", "orient": "bottom", "anchor": "start", "align": "left", "frame": "group", "subtitlePadding": -26.5}
}
}
